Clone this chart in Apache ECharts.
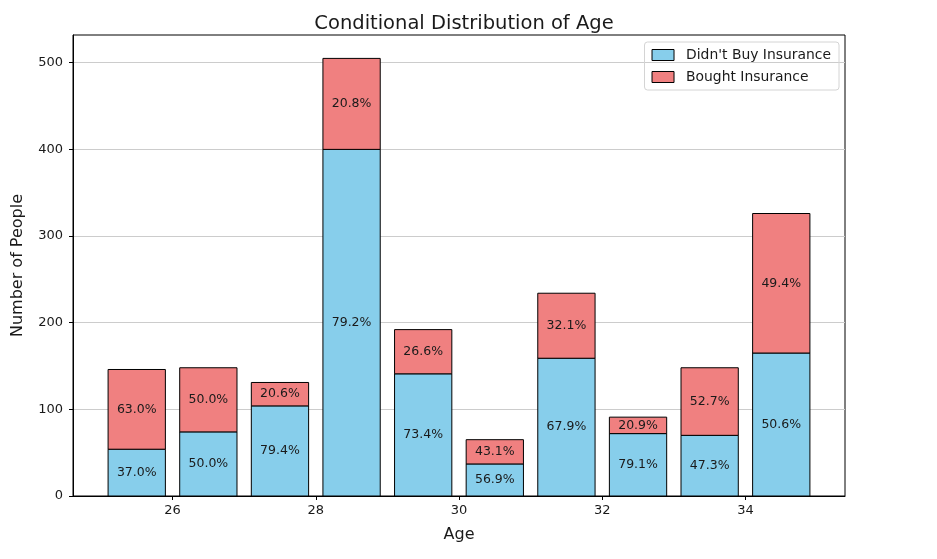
<!DOCTYPE html>
<html>
<head>
<meta charset="utf-8">
<script src="https://cdn.jsdelivr.net/npm/echarts@6/dist/echarts.min.js"></script>
<style>html,body{margin:0;padding:0;background:#fff}#c{width:937px;height:559px}</style>
</head>
<body>
<div id="c"></div>
<script>
var ages = [25.5, 26.5, 27.5, 28.5, 29.5, 30.5, 31.5, 32.5, 33.5, 34.5];
var didntBuy = [54, 74, 104, 400, 141, 37, 159, 72, 70, 165];
var bought = [92, 74, 27, 105, 51, 28, 75, 19, 78, 161];
var xTicks = [26, 28, 30, 32, 34];
var yTicks = [0, 100, 200, 300, 400, 500];

var xMin = 24.61, xMax = 35.39, yMax = 532;
var barWidthUnits = 0.8;
var gridLeft = 73, gridRight = 937 - 845, gridTop = 35, gridBottom = 559 - 496;
var font = 'DejaVu Sans';
var textColor = '#1a1a1a';

function pct(i, own) {
  var t = didntBuy[i] + bought[i];
  return (own / t * 100).toFixed(1) + '%';
}

function makeRender(values, color) {
  return function (params, api) {
    var i = params.dataIndex;
    var x = api.value(0), lo = api.value(1), hi = api.value(2);
    var p0 = api.coord([x - barWidthUnits / 2, hi]);
    var p1 = api.coord([x + barWidthUnits / 2, lo]);
    return {
      type: 'group',
      children: [
        {
          type: 'rect',
          shape: {x: p0[0], y: p0[1], width: p1[0] - p0[0], height: p1[1] - p0[1]},
          style: {fill: color, stroke: '#000', lineWidth: 1}
        },
        {
          type: 'text',
          x: (p0[0] + p1[0]) / 2, y: (p0[1] + p1[1]) / 2,
          style: {
            text: pct(i, values[i]), align: 'center', verticalAlign: 'middle',
            fontFamily: font, fontSize: 12.5, fill: textColor
          }
        }
      ]
    };
  };
}

var chart = echarts.init(document.getElementById('c'), null, {renderer: 'canvas'});
chart.setOption({
  backgroundColor: '#fff',
  animation: false,
  title: {
    text: 'Conditional Distribution of Age',
    left: (gridLeft + 845) / 2, top: 9, textAlign: 'center',
    textStyle: {fontFamily: font, fontSize: 19.5, fontWeight: 'normal', color: textColor}
  },
  legend: {
    orient: 'vertical', right: 937 - 839, top: 42,
    itemWidth: 22, itemHeight: 11, itemGap: 8,
    padding: [6, 8, 6, 7],
    borderColor: '#d4d4d4', borderWidth: 1, borderRadius: 3,
    textStyle: {fontFamily: font, fontSize: 13.9, color: textColor, padding: [0, 0, 0, 7]},
    data: [
      {name: "Didn't Buy Insurance", icon: 'rect', itemStyle: {color: '#87CEEB', borderColor: '#000', borderWidth: 1}},
      {name: 'Bought Insurance', icon: 'rect', itemStyle: {color: '#F08080', borderColor: '#000', borderWidth: 1}}
    ]
  },
  grid: {
    left: gridLeft, right: gridRight, top: gridTop, bottom: gridBottom,
    show: true, borderColor: '#000', borderWidth: 1, backgroundColor: 'transparent'
  },
  xAxis: {
    type: 'value', min: xMin, max: xMax,
    name: 'Age', nameLocation: 'middle', nameGap: 31,
    nameTextStyle: {fontFamily: font, fontSize: 16, color: textColor},
    axisLine: {show: true, onZero: false, lineStyle: {color: '#000'}},
    axisTick: {show: true, length: 4, lineStyle: {color: '#000'}, customValues: xTicks},
    axisLabel: {fontFamily: font, fontSize: 13, color: textColor, margin: 8, customValues: xTicks},
    splitLine: {show: false}
  },
  yAxis: {
    type: 'value', min: 0, max: yMax,
    name: 'Number of People', nameLocation: 'middle', nameGap: 47,
    nameTextStyle: {fontFamily: font, fontSize: 16, color: textColor},
    axisLine: {show: true, lineStyle: {color: '#000'}},
    axisTick: {show: true, length: 4, lineStyle: {color: '#000'}, customValues: yTicks},
    axisLabel: {fontFamily: font, fontSize: 13, color: textColor, margin: 10, customValues: yTicks},
    splitLine: {show: true, lineStyle: {color: '#cccccc', width: 1}}
  },
  series: [
    {
      name: "Didn't Buy Insurance", type: 'custom',
      itemStyle: {color: '#87CEEB', borderColor: '#000', borderWidth: 1},
      renderItem: makeRender(didntBuy, '#87CEEB'),
      encode: {x: 0, y: [1, 2]},
      data: ages.map(function (a, i) { return [a, 0, didntBuy[i]]; })
    },
    {
      name: 'Bought Insurance', type: 'custom',
      itemStyle: {color: '#F08080', borderColor: '#000', borderWidth: 1},
      renderItem: makeRender(bought, '#F08080'),
      encode: {x: 0, y: [1, 2]},
      data: ages.map(function (a, i) { return [a, didntBuy[i], didntBuy[i] + bought[i]]; })
    }
  ]
});
</script>
</body>
</html>
